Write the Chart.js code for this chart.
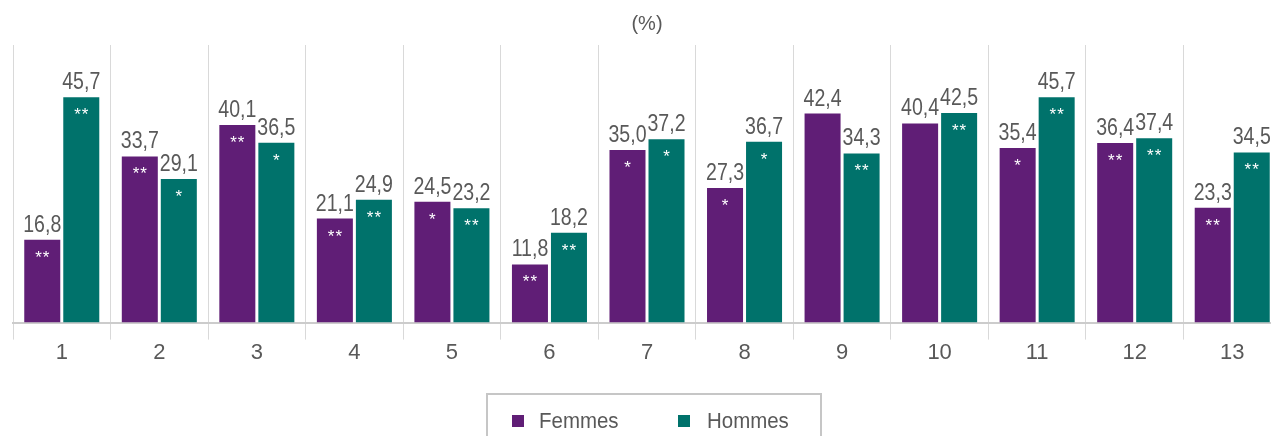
<!DOCTYPE html>
<html>
<head>
<meta charset="utf-8">
<script src="https://cdn.jsdelivr.net/npm/chart.js@4"></script>
<style>
	html, body { margin: 0; padding: 0; background: #fff; overflow: hidden; }
	#wrap { position: relative; width: 1290px; height: 436px; }
	#legend {
		position: absolute; left: 486px; top: 393px; width: 332px; height: 70px;
		border: 2px solid #c6c6c6; box-sizing: content-box;
		font-family: 'Liberation Sans Narrow', 'Arial Narrow', 'Liberation Sans', sans-serif;
		font-size: 22px; color: #595959;
	}
	#legend .item { position: absolute; top: 14px; display: flex; align-items: center; height: 24px; }
	#legend .box { width: 12px; height: 12px; display: inline-block; }
	#legend .txt { display: inline-block; transform: scaleX(0.93); transform-origin: left center; }
</style>
</head>
<body>
<div id="wrap">
	<canvas id="chart" width="1290" height="436"></canvas>
	<div id="legend"></div>
</div>
<script>
const FONT = "'Liberation Sans Narrow', 'Arial Narrow', 'Liberation Sans', sans-serif"
const TEXT_COLOR = '#595959'

const categories = ['1', '2', '3', '4', '5', '6', '7', '8', '9', '10', '11', '12', '13']
const femmes = [16.8, 33.7, 40.1, 21.1, 24.5, 11.8, 35.0, 27.3, 42.4, 40.4, 35.4, 36.4, 23.3]
const hommes = [45.7, 29.1, 36.5, 24.9, 23.2, 18.2, 37.2, 36.7, 34.3, 42.5, 45.7, 37.4, 34.5]
// significance marks shown inside the bars
const femmesStars = ['**', '**', '**', '**', '*', '**', '*', '*', '', '', '*', '**', '**']
const hommesStars = ['**', '*', '*', '**', '**', '**', '*', '*', '**', '**', '**', '**', '**']

const PURPLE = '#601e76'
const TEAL = '#00726b'

// values above the bars + stars inside
const barLabels = {
	id: 'barLabels',
	afterDatasetsDraw(chart) {
		const ctx = chart.ctx
		chart.data.datasets.forEach((ds, i) => {
			const meta = chart.getDatasetMeta(i)
			meta.data.forEach((bar, j) => {
				const v = ds.data[j]
				ctx.save()
				ctx.textAlign = 'center'
				ctx.textBaseline = 'alphabetic'
				ctx.fillStyle = TEXT_COLOR
				ctx.font = '23px ' + FONT
				// squeeze the text a bit, the original uses a narrow font
				ctx.translate(bar.x, bar.y - 8)
				ctx.scale(0.85, 1)
				ctx.fillText(v.toFixed(1).replace('.', ','), 0, 0)
				ctx.restore()

				const star = ds.stars[j]
				if (star) {
					ctx.save()
					ctx.textAlign = 'center'
					ctx.fillStyle = '#ffffff'
					ctx.font = '17px "Liberation Sans", sans-serif'
					ctx.letterSpacing = '1px'
					ctx.fillText(star, bar.x + 0.5, bar.y + 23)
					ctx.restore()
				}
			})
		})
	},
}

const options = {
	type: 'bar',
	data: {
		labels: categories,
		datasets: [
			{ label: 'Femmes', data: femmes, stars: femmesStars, backgroundColor: PURPLE },
			{ label: 'Hommes', data: hommes, stars: hommesStars, backgroundColor: TEAL },
		],
	},
	options: {
		responsive: false,
		animation: false,
		devicePixelRatio: 1,
		categoryPercentage: 0.8,
		barPercentage: 0.923,
		layout: { padding: { left: 13, right: 9, top: 0, bottom: 70 } },
		plugins: {
			legend: { display: false },
			tooltip: { enabled: false },
			title: {
				display: true,
				text: '(%)',
				color: TEXT_COLOR,
				font: { family: FONT, size: 20, weight: 'normal' },
				padding: { top: 12, bottom: 9 },
			},
		},
		scales: {
			x: {
				grid: { offset: true, color: '#d9d9d9', lineWidth: 1, tickLength: 17 },
				border: { color: '#cccccc', width: 2 },
				ticks: { color: TEXT_COLOR, font: { family: FONT, size: 22 }, padding: 0 },
			},
			y: { display: false, min: 0, max: 56.3 },
		},
	},
	plugins: [barLabels],
}

const ctx = document.getElementById('chart')
const chart = new Chart(ctx, options)

// legend box at the bottom, built from the datasets
const LEGEND = document.getElementById('legend')
const legendX = [24, 190]
chart.data.datasets.forEach((ds, i) => {
	const item = document.createElement('div')
	item.className = 'item'
	item.style.left = legendX[i] + 'px'
	const box = document.createElement('span')
	box.className = 'box'
	box.style.background = ds.backgroundColor
	box.style.marginRight = (i === 0 ? 15 : 17) + 'px'
	const label = document.createElement('span')
	label.className = 'txt'
	label.innerText = ds.label
	item.appendChild(box)
	item.appendChild(label)
	LEGEND.appendChild(item)
})
</script>
</body>
</html>
